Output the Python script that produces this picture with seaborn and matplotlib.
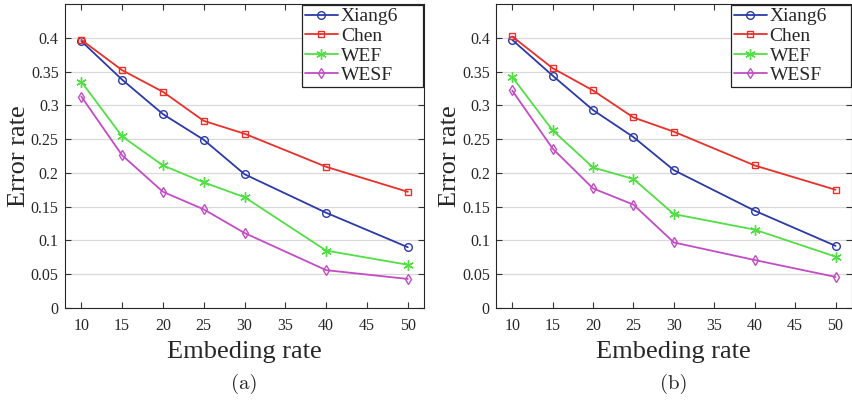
import matplotlib
matplotlib.use("Agg")
import matplotlib.pyplot as plt
import seaborn as sns
import numpy as np

# Data
rates = [10, 15, 20, 25, 30, 40, 50]
methods = ["Xiang6", "Chen", "WEF", "WESF"]

xiang6_a = [0.395, 0.338, 0.287, 0.249, 0.198, 0.141, 0.090]
chen_a = [0.397, 0.352, 0.320, 0.277, 0.258, 0.209, 0.172]
wef_a = [0.335, 0.254, 0.211, 0.186, 0.164, 0.085, 0.064]
wesf_a = [0.313, 0.226, 0.172, 0.146, 0.111, 0.056, 0.043]

xiang6_b = [0.397, 0.344, 0.293, 0.253, 0.204, 0.144, 0.092]
chen_b = [0.402, 0.355, 0.322, 0.282, 0.261, 0.211, 0.175]
wef_b = [0.342, 0.263, 0.208, 0.191, 0.139, 0.116, 0.076]
wesf_b = [0.322, 0.236, 0.177, 0.153, 0.097, 0.071, 0.046]

panels = [("(a)", [xiang6_a, chen_a, wef_a, wesf_a]),
          ("(b)", [xiang6_b, chen_b, wef_b, wesf_b])]

colors = ["#2b3aa6", "#e8302a", "#52de45", "#c24cc4"]
markers = ["o", "s", (6, 2, 0), "d"]
msizes = [5.5, 5, 7.5, 5.5]

sns.set_style("ticks")
plt.rcParams["font.family"] = ["Liberation Serif", "DejaVu Serif"]

fig = plt.figure(figsize=(8.53, 4.0), dpi=100)
ax_pos = [[0.0762, 0.23, 0.421, 0.76], [0.5815, 0.23, 0.417, 0.76]]

for pos, (cap, series) in zip(ax_pos, panels):
    ax = fig.add_axes(pos)
    for name, vals, c, m, ms in zip(methods, series, colors, markers, msizes):
        sns.lineplot(x=rates, y=vals, ax=ax, color=c, marker=m, markersize=ms,
                     markerfacecolor="none", markeredgecolor=c, markeredgewidth=1.0,
                     linewidth=1.3, label=name)
    ax.set_xlim(8, 52)
    ax.set_ylim(0, 0.45)
    ax.set_xticks(np.arange(10, 51, 5))
    ax.set_yticks(np.arange(0, 0.401, 0.05))
    ax.set_yticklabels(["0", "0.05", "0.1", "0.15", "0.2", "0.25", "0.3", "0.35", "0.4"])
    ax.yaxis.grid(True, color="#d9d9d9", linewidth=0.9)
    ax.set_axisbelow(True)
    ax.tick_params(direction="in", top=True, right=True, labelsize=11.5,
                   length=4, width=0.8, color="#333333")
    ax.tick_params(axis="x", pad=7)
    ax.tick_params(axis="y", pad=4.5)
    for sp in ax.spines.values():
        sp.set_color("#262626")
        sp.set_linewidth(0.8)
    ax.set_xlabel("Embeding rate", fontsize=19, labelpad=5)
    ax.set_ylabel("Error rate", fontsize=19)
    ax.yaxis.set_label_coords(-0.098, 0.5)
    leg = ax.legend(loc="upper left", bbox_to_anchor=(0.66, 0.5, 0.337, 0.497),
                    mode="expand", fontsize=14, frameon=True, fancybox=False,
                    borderaxespad=0, handlelength=1.7, handletextpad=0.15,
                    labelspacing=0.1, borderpad=0.15)
    leg.get_frame().set_edgecolor("#222222")
    leg.get_frame().set_linewidth(0.9)
    leg.get_frame().set_alpha(1)
    ax.text(0.5, -0.266, cap, transform=ax.transAxes, ha="center", va="baseline",
            fontsize=15, family=["cmr10", "DejaVu Serif"])

fig.savefig("out.png", dpi=100)
